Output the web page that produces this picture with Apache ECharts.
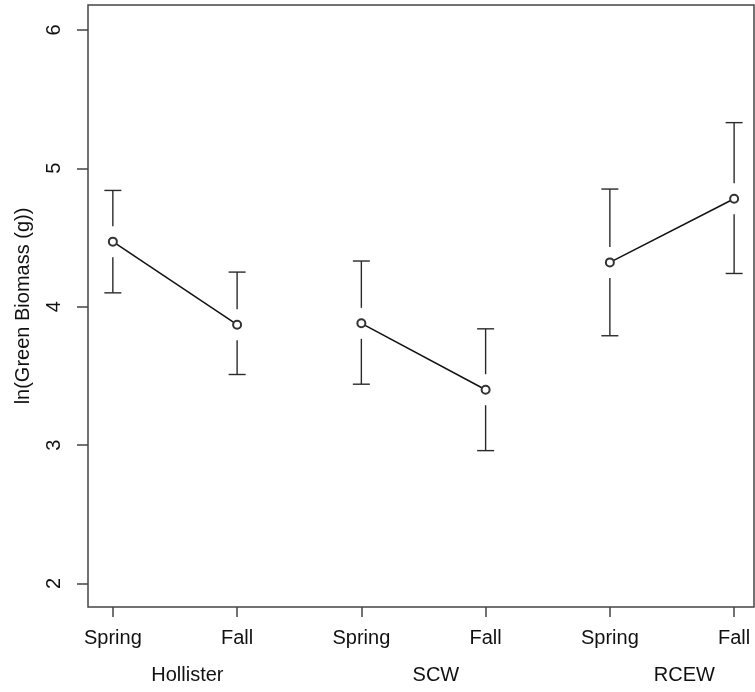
<!DOCTYPE html>
<html>
<head>
<meta charset="utf-8">
<script src="https://cdn.jsdelivr.net/npm/echarts@6/dist/echarts.min.js"></script>
<style>
  html, body { margin: 0; padding: 0; background: #ffffff; }
  #chart { width: 755px; height: 692px; }
</style>
</head>
<body>
<div id="chart"></div>
<script>
// sites and seasons
const sites = ['Hollister', 'SCW', 'RCEW']
const seasons = ['Spring', 'Fall', 'Spring', 'Fall', 'Spring', 'Fall']
const xPos = [1, 2, 3, 4, 5, 6]
// ln(green biomass) mean and interval ends
const means = [4.47, 3.87, 3.88, 3.40, 4.32, 4.78]
const lower = [4.10, 3.51, 3.44, 2.96, 3.79, 4.24]
const upper = [4.84, 4.25, 4.33, 3.84, 4.85, 5.33]
const yTicks = [2, 3, 4, 5, 6]
const siteLabelAt = [1.6, 3.6, 5.6]

const font = 'Liberation Sans, Arial, sans-serif'
const axisColor = '#444'

const chart = echarts.init(document.getElementById('chart'))

// one line per site (spring -> fall)
const lineSeries = sites.map((s, k) => ({
  name: s,
  type: 'line',
  xAxisIndex: 0,
  data: [0, 1].map(j => [xPos[k * 2 + j], means[k * 2 + j]]),
  symbol: 'emptyCircle',
  symbolSize: 8,
  itemStyle: { color: '#333', borderWidth: 1.3 },
  lineStyle: { color: '#111', width: 1.5 },
  z: 3
}))

const errData = xPos.map((x, i) => [x, lower[i], upper[i], means[i]])

const option = {
  animation: false,
  backgroundColor: '#ffffff',
  grid: {
    left: 88,
    right: 1,
    top: 5,
    bottom: 85,
    show: true,
    borderColor: axisColor,
    borderWidth: 1.5,
    backgroundColor: 'transparent'
  },
  xAxis: [
    {
      type: 'value',
      min: 0.8,
      max: 6.16,
      splitLine: { show: false },
      axisLine: { show: false },
      axisTick: {
        show: true,
        length: 10,
        customValues: xPos,
        lineStyle: { color: axisColor, width: 1.5 }
      },
      axisLabel: {
        customValues: xPos,
        formatter: v => seasons[Math.round(v) - 1],
        fontSize: 20,
        fontFamily: font,
        color: '#111',
        margin: 21
      }
    },
    {
      type: 'value',
      position: 'bottom',
      min: 0.8,
      max: 6.16,
      splitLine: { show: false },
      axisLine: { show: false },
      axisTick: { show: false },
      axisLabel: {
        customValues: siteLabelAt,
        formatter: v => sites[Math.round((v - 1.6) / 2)],
        fontSize: 20,
        fontFamily: font,
        color: '#111',
        margin: 58
      }
    }
  ],
  yAxis: {
    type: 'value',
    min: 1.83,
    max: 6.18,
    name: 'ln(Green Biomass (g))',
    nameLocation: 'middle',
    nameRotate: 90,
    nameGap: 55,
    nameTextStyle: { fontSize: 20, fontFamily: font, color: '#111' },
    splitLine: { show: false },
    axisLine: { show: false },
    axisTick: {
      show: true,
      length: 11,
      customValues: yTicks,
      lineStyle: { color: axisColor, width: 1.5 }
    },
    axisLabel: {
      customValues: yTicks,
      rotate: 90,
      fontSize: 20,
      fontFamily: font,
      color: '#111',
      margin: 24
    }
  },
  series: [
    ...lineSeries,
    {
      type: 'custom',
      xAxisIndex: 0,
      data: errData,
      z: 2,
      renderItem: function (params, api) {
        const x = api.value(0)
        const lo = api.coord([x, api.value(1)])
        const hi = api.coord([x, api.value(2)])
        const mid = api.coord([x, api.value(3)])
        const gap = 15.5
        const cap = 8.5
        const style = { stroke: '#2a2a2a', lineWidth: 1.4 }
        return {
          type: 'group',
          children: [
            { type: 'line', shape: { x1: hi[0], y1: hi[1], x2: hi[0], y2: mid[1] - gap }, style: style },
            { type: 'line', shape: { x1: hi[0] - cap, y1: hi[1], x2: hi[0] + cap, y2: hi[1] }, style: style },
            { type: 'line', shape: { x1: lo[0], y1: lo[1], x2: lo[0], y2: mid[1] + gap }, style: style },
            { type: 'line', shape: { x1: lo[0] - cap, y1: lo[1], x2: lo[0] + cap, y2: lo[1] }, style: style }
          ]
        }
      }
    }
  ]
}

chart.setOption(option)
</script>
</body>
</html>
